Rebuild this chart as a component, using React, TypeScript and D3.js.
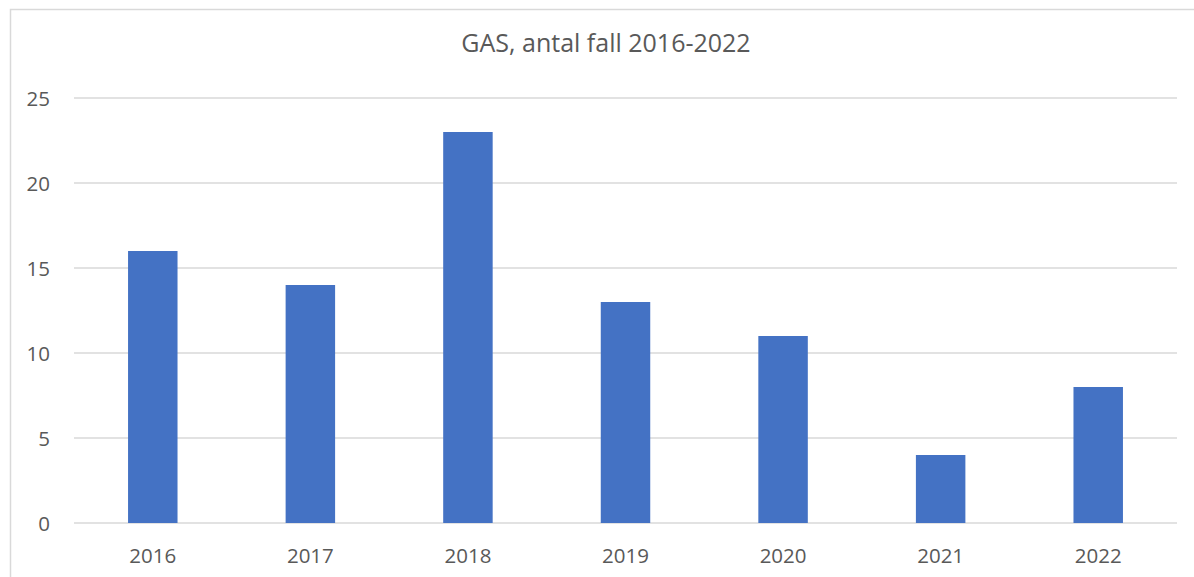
import { useEffect, useRef } from "react";
import * as d3 from "d3";

const years = ["2016", "2017", "2018", "2019", "2020", "2021", "2022"];
const cases = [16, 14, 23, 13, 11, 4, 8];
const yTicks = [0, 5, 10, 15, 20, 25];
const title = "GAS, antal fall 2016-2022";

export default function App() {
  const ref = useRef<SVGSVGElement>(null);
  const width = 1194;
  const height = 577;
  const left = 74;
  const right = 1177;
  const top = 98;
  const bottom = 523;

  useEffect(() => {
    const svg = d3.select(ref.current);
    svg.selectAll("*").remove();

    const x = d3.scaleBand().domain(years).range([left, right]).paddingInner(0.686).paddingOuter(0.343);
    const y = d3.scaleLinear().domain([0, 25]).range([bottom, top]);
    const font = "'Open Sans', 'Liberation Sans', sans-serif";

    // chart border (right and bottom edges are off-page)
    svg.append("rect")
      .attr("x", 10.5).attr("y", 9.5)
      .attr("width", width + 10).attr("height", height + 10)
      .attr("fill", "white").attr("stroke", "#d9d9d9").attr("stroke-width", 1.5);

    svg.append("text")
      .attr("x", 606).attr("y", 52)
      .attr("text-anchor", "middle")
      .attr("font-family", font).attr("font-size", 25)
      .attr("fill", "#595959")
      .text(title);

    const grid = svg.append("g");
    grid.selectAll("line").data(yTicks).join("line")
      .attr("x1", left).attr("x2", right)
      .attr("y1", d => y(d)).attr("y2", d => y(d))
      .attr("stroke", "#d9d9d9").attr("stroke-width", 1.5);

    svg.append("g").selectAll("text").data(yTicks).join("text")
      .attr("x", 50).attr("y", d => y(d) + 7.5)
      .attr("text-anchor", "end")
      .attr("font-family", font).attr("font-size", 20.5)
      .attr("fill", "#595959")
      .text(d => d);

    svg.append("g").selectAll("rect").data(cases).join("rect")
      .attr("x", (d, i) => x(years[i])!)
      .attr("width", x.bandwidth())
      .attr("y", d => y(d))
      .attr("height", d => y(0) - y(d))
      .attr("fill", "#4472C4");

    svg.append("g").selectAll("text").data(years).join("text")
      .attr("x", d => x(d)! + x.bandwidth() / 2)
      .attr("y", 563)
      .attr("text-anchor", "middle")
      .attr("font-family", font).attr("font-size", 20.5)
      .attr("fill", "#595959")
      .text(d => d);
  });

  return (
    <svg ref={ref} width={width} height={height}
      style={{ position: "absolute", left: 0, top: 0, display: "block" }} />
  );
}
